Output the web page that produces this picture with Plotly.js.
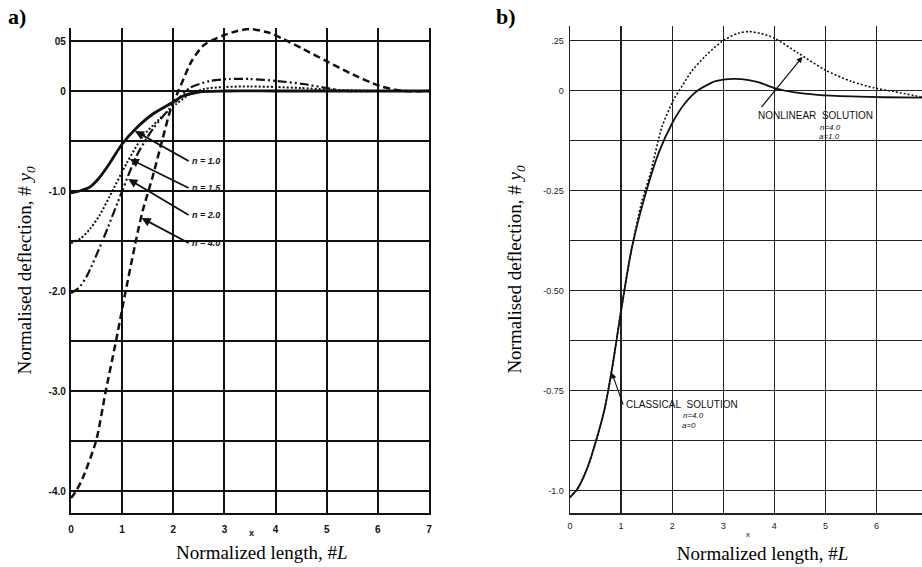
<!DOCTYPE html>
<html>
<head>
<meta charset="utf-8">
<script src="https://cdn.plot.ly/plotly-3.0.1.min.js"></script>
<style>html,body{margin:0;padding:0;background:#fff;}#chart{width:922px;height:567px;}</style>
</head>
<body>
<div id="chart"></div>
<script>
// ---------- Panel a) data ----------
const a_x_n10 = [0, 0.2, 0.37, 0.55, 0.76, 1.0, 1.28, 1.6, 2.0, 2.15, 2.5, 3.0, 4.0, 5.0, 6.0, 7.0];
const a_y_n10 = [-1.02, -0.995, -0.96, -0.87, -0.72, -0.53, -0.37, -0.23, -0.11, -0.06, -0.01, 0.0, 0.0, 0.0, 0.0, 0.0];

const a_x_n15 = [0, 0.2, 0.37, 0.55, 0.76, 1.09, 1.41, 1.73, 2.06, 2.3, 2.6, 3.0, 3.5, 4.0, 4.5, 5.0, 6.0, 7.0];
const a_y_n15 = [-1.52, -1.47, -1.38, -1.25, -1.05, -0.72, -0.45, -0.28, -0.13, -0.04, 0.02, 0.04, 0.045, 0.04, 0.03, 0.015, 0.0, 0.0];

const a_x_n20 = [0, 0.15, 0.31, 0.63, 1.0, 1.28, 1.6, 1.92, 2.1, 2.32, 2.71, 3.1, 3.5, 4.03, 4.54, 4.99, 5.38, 6.0, 7.0];
const a_y_n20 = [-2.02, -1.97, -1.85, -1.48, -1.0, -0.65, -0.38, -0.18, -0.08, 0.03, 0.10, 0.12, 0.12, 0.10, 0.07, 0.03, 0.0, 0.0, 0.0];

const a_x_n40 = [0, 0.1, 0.23, 0.49, 0.68, 0.88, 1.05, 1.28, 1.4, 1.6, 1.79, 1.95, 2.1, 2.2, 2.36, 2.6, 3.0, 3.25, 3.5, 3.89, 4.15, 4.54, 4.99, 5.45, 6.04, 6.5, 7.0];
const a_y_n40 = [-4.07, -4.0, -3.87, -3.5, -3.0, -2.5, -2.05, -1.47, -1.2, -0.85, -0.48, -0.18, 0.0, 0.12, 0.3, 0.46, 0.56, 0.6, 0.62, 0.58, 0.52, 0.42, 0.30, 0.18, 0.05, 0.0, 0.0];

const a_xticks = [0, 1, 2, 3, 4, 5, 6, 7];
const a_xticktext = ["0", "1", "2", "3", "4", "5", "6", "7"];
const a_yticks = [0.5, 0, -1.0, -2.0, -3.0, -4.0];
const a_yticktext = ["05", "0", "-1.0", "-2.0", "-3.0", "-4.0"];

const a_labels = ["n = 1.0", "n = 1.5", "n = 2.0", "n = 4.0"];

// ---------- Panel b) data ----------
const b_x_classical = [0, 0.15, 0.35, 0.5, 0.67, 0.83, 1.0, 1.2, 1.44, 1.73, 2.0, 2.25, 2.5, 2.85, 3.2, 3.5, 3.7, 4.0, 4.4, 4.85, 5.5, 6.15, 6.9];
const b_y_classical = [-1.017, -0.995, -0.94, -0.88, -0.80, -0.69, -0.55, -0.40, -0.276, -0.158, -0.082, -0.032, 0.0, 0.023, 0.029, 0.026, 0.02, 0.006, -0.005, -0.011, -0.015, -0.017, -0.018];

const b_x_nonlinear = [0, 0.15, 0.35, 0.5, 0.67, 0.83, 1.0, 1.2, 1.4, 1.57, 1.8, 2.03, 2.19, 2.38, 2.65, 2.97, 3.29, 3.5, 3.75, 4.01, 4.46, 4.98, 5.5, 5.96, 6.35, 6.9];
const b_y_nonlinear = [-1.017, -0.995, -0.94, -0.88, -0.80, -0.69, -0.55, -0.40, -0.28, -0.209, -0.091, -0.023, 0.010, 0.048, 0.086, 0.122, 0.143, 0.147, 0.142, 0.130, 0.094, 0.052, 0.023, 0.006, -0.003, -0.017];

const b_xticks = [0, 1, 2, 3, 4, 5, 6];
const b_xticktext = ["0", "1", "2", "3", "4", "5", "6"];
const b_yticks = [0.125, 0, -0.25, -0.5, -0.75, -1.0];
const b_yticktext = [".25", "0", "-0.25", "-0.50", "-0.75", "-1.0"];

const xTitleText = 'Normalized length, #<i>L</i>';
const yTitleText = 'Normalised deflection, # <i>y<sub>0</sub></i>';

// ---------- traces ----------
const traces = [
  {x: a_x_n10, y: a_y_n10, xaxis: 'x', yaxis: 'y', mode: 'lines', name: 'n = 1.0',
   line: {color: '#111', width: 2.8, shape: 'spline', smoothing: 0.7}},
  {x: a_x_n15, y: a_y_n15, xaxis: 'x', yaxis: 'y', mode: 'lines', name: 'n = 1.5',
   line: {color: '#111', width: 2, dash: '2px,2px', shape: 'spline', smoothing: 0.7}},
  {x: a_x_n20, y: a_y_n20, xaxis: 'x', yaxis: 'y', mode: 'lines', name: 'n = 2.0',
   line: {color: '#111', width: 2.2, dash: '9px,3px,2px,3px,2px,3px', shape: 'spline', smoothing: 0.7}},
  {x: a_x_n40, y: a_y_n40, xaxis: 'x', yaxis: 'y', mode: 'lines', name: 'n = 4.0',
   line: {color: '#111', width: 2.5, dash: '7px,4px', shape: 'spline', smoothing: 0.7}},
  {x: b_x_classical, y: b_y_classical, xaxis: 'x2', yaxis: 'y2', mode: 'lines', name: 'Classical solution',
   line: {color: '#111', width: 1.8, shape: 'spline', smoothing: 0.7}},
  {x: b_x_nonlinear, y: b_y_nonlinear, xaxis: 'x2', yaxis: 'y2', mode: 'lines', name: 'Nonlinear solution',
   line: {color: '#111', width: 1.6, dash: '2px,2px', shape: 'spline', smoothing: 0.7}}
];

const tickA = {family: 'Liberation Sans, Arial, sans-serif', size: 10, color: '#111', weight: 'bold'};
const tickB = {family: 'Liberation Sans, Arial, sans-serif', size: 9, color: '#222'};
const titleFont = {family: 'Liberation Serif, Times New Roman, serif', size: 19, color: '#000'};
const smallFont = {family: 'Liberation Sans, Arial, sans-serif', size: 9, color: '#111'};
const capsFont = {family: 'Liberation Sans, Arial, sans-serif', size: 10, color: '#111'};
const tinyFont = {family: 'Liberation Sans, Arial, sans-serif', size: 8, color: '#111'};

function P(px, py) { return {x: px / 922, y: 1 - py / 567}; }

const annotations = [];
function paperText(text, px, py, font, extra) {
  const p = P(px, py);
  annotations.push(Object.assign({xref: 'paper', yref: 'paper', x: p.x, y: p.y, text: text, showarrow: false,
    xanchor: 'center', yanchor: 'middle', font: font}, extra || {}));
}

// panel labels
paperText('<b>a)</b>', 17, 16, {family: 'Liberation Serif, serif', size: 22, color: '#000'});
paperText('<b>b)</b>', 506, 17, {family: 'Liberation Serif, serif', size: 22, color: '#000'});

// small "x" under axes
paperText('<b>x</b>', 252, 533, {family: 'Liberation Sans, Arial, sans-serif', size: 9, color: '#111'});
paperText('x', 748, 534, {family: 'Liberation Sans, Arial, sans-serif', size: 8, color: '#222'});

// panel a: labels with arrows pointing to the curves
const a_heads = [[1.25, -0.40], [1.15, -0.68], [1.12, -0.88], [1.38, -1.27]];
const a_tails = [[2.30, -0.70], [2.30, -0.97], [2.30, -1.24], [2.30, -1.52]];
for (let i = 0; i < a_labels.length; i++) {
  annotations.push({xref: 'x', yref: 'y', axref: 'x', ayref: 'y',
    x: a_heads[i][0], y: a_heads[i][1], ax: a_tails[i][0], ay: a_tails[i][1],
    xanchor: 'left', yanchor: 'middle',
    text: '<b><i>' + a_labels[i] + '</i></b>', showarrow: true, arrowhead: 2, arrowsize: 1, arrowwidth: 1.8, arrowcolor: '#111',
    font: smallFont, borderpad: 2});
}

// panel b annotations
annotations.push({xref: 'x2', yref: 'y2', axref: 'x2', ayref: 'y2', x: 4.55, y: 0.084, ax: 3.62, ay: -0.062,
  xanchor: 'left', yanchor: 'middle',
  text: 'NONLINEAR&nbsp;&nbsp;SOLUTION', font: capsFont, borderpad: 2,
  showarrow: true, arrowhead: 2, arrowsize: 1, arrowwidth: 1.2, arrowcolor: '#111'});
paperText('<i>n=4.0</i>', 830, 127, tinyFont);
paperText('<i>a=1.0</i>', 829, 136, tinyFont);

annotations.push({xref: 'x2', yref: 'y2', axref: 'x2', ayref: 'y2', x: 0.82, y: -0.706, ax: 1.04, ay: -0.785,
  xanchor: 'left', yanchor: 'middle',
  text: 'CLASSICAL&nbsp;&nbsp;SOLUTION', font: capsFont, borderpad: 2,
  showarrow: true, arrowhead: 2, arrowsize: 1, arrowwidth: 1.1, arrowcolor: '#111'});
paperText('<i>n=4.0</i>', 693, 415, tinyFont);
paperText('<i>a=0</i>', 689, 425, tinyFont);

const layout = {
  width: 922, height: 567,
  margin: {l: 0, r: 0, t: 0, b: 0},
  paper_bgcolor: '#fff', plot_bgcolor: '#fff',
  showlegend: false,
  xaxis: {domain: [71 / 922, 429 / 922], anchor: 'y', range: [0, 7],
    tickmode: 'array', tickvals: a_xticks, ticktext: a_xticktext,
    showgrid: true, gridcolor: '#111', gridwidth: 2, zeroline: false,
    showline: true, linecolor: '#111', linewidth: 2.2, ticks: '', ticklabelstandoff: 6,
    tickfont: tickA, fixedrange: true, automargin: false,
    title: {text: '&nbsp;&nbsp;&nbsp;&nbsp;&nbsp;' + xTitleText, font: titleFont, standoff: 12}},
  yaxis: {domain: [1 - 513 / 567, 1 - 28 / 567], anchor: 'x', range: [-4.22, 0.63],
    tickmode: 'array', tickvals: a_yticks, ticktext: a_yticktext,
    showgrid: true, gridcolor: '#111', gridwidth: 2, zeroline: false,
    minor: {tick0: 0, dtick: 0.5, showgrid: true, gridcolor: '#111', gridwidth: 2, ticks: ''},
    showline: true, mirror: true, linecolor: '#111', linewidth: 2.2, ticks: '', ticklabelstandoff: 1,
    tickfont: tickA, fixedrange: true, automargin: false,
    title: {text: yTitleText, font: titleFont, standoff: 12}},
  xaxis2: {domain: [570 / 922, 1], anchor: 'y2', range: [0, 6.89],
    tickmode: 'array', tickvals: b_xticks, ticktext: b_xticktext,
    showgrid: true, gridcolor: '#222', gridwidth: 1.3, zeroline: false,
    showline: true, linecolor: '#222', linewidth: 1.5, ticks: '', ticklabelstandoff: 4,
    tickfont: tickB, fixedrange: true, automargin: false,
    title: {text: '&nbsp;&nbsp;&nbsp;&nbsp;&nbsp;&nbsp;&nbsp;' + xTitleText, font: titleFont, standoff: 16}},
  yaxis2: {domain: [1 - 513 / 567, 1 - 26 / 567], anchor: 'x2', range: [-1.056, 0.161],
    tickmode: 'array', tickvals: b_yticks, ticktext: b_yticktext,
    showgrid: true, gridcolor: '#222', gridwidth: 1.3, zeroline: false,
    minor: {tick0: 0, dtick: 0.125, showgrid: true, gridcolor: '#222', gridwidth: 1.3, ticks: ''},
    showline: true, linecolor: '#222', linewidth: 1.5, ticks: '', ticklabelstandoff: 3,
    tickfont: tickB, fixedrange: true, automargin: false,
    title: {text: yTitleText, font: titleFont, standoff: 16}},
  annotations: annotations
};

Plotly.newPlot('chart', traces, layout, {displayModeBar: false, staticPlot: true});
</script>
</body>
</html>
